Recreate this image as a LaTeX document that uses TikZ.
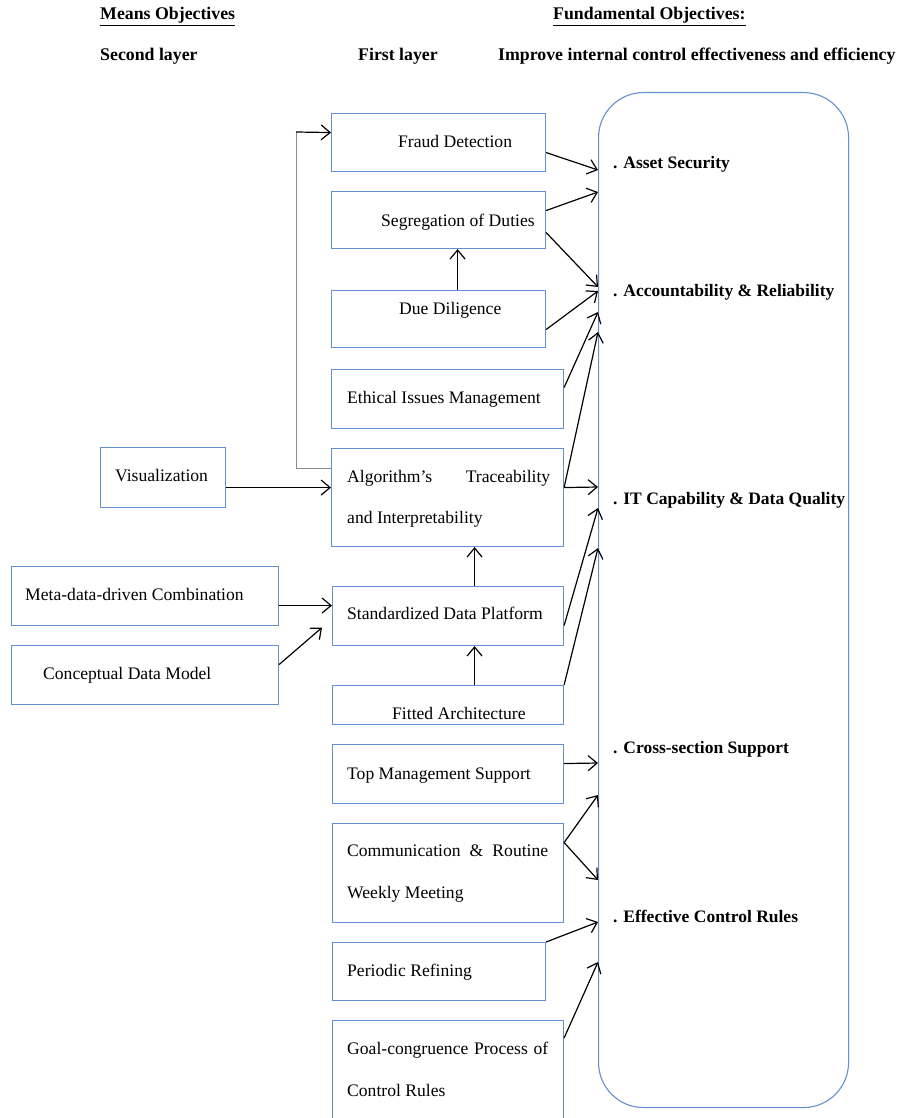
\documentclass[tikz,border=0pt]{standalone}
\usepackage{fontspec}
\setmainfont{Liberation Serif}
\usetikzlibrary{arrows.meta}
\definecolor{boxblue}{RGB}{100,145,205}
\tikzset{
  box/.style={draw=boxblue, line width=1.1pt, anchor=north west, inner sep=0pt},
  txt/.style={anchor=base west, inner sep=0pt, font=\fontsize{17.6}{20}\selectfont},
  lbl/.style={anchor=base west, inner sep=0pt, font=\fontsize{17.5}{20}\selectfont\bfseries},
  head/.style={anchor=base west, inner sep=0pt, font=\fontsize{17.8}{20}\selectfont\bfseries},
  arr/.style={-{Straight Barb[length=9pt,width=15pt]}, line width=1.2pt, black},
  fb/.style={line width=0.9pt, black!45},
}
\begin{document}
\begin{tikzpicture}[x=1pt,y=-1pt]
\useasboundingbox (0,0) rectangle (898,1118);
\clip (0,0) rectangle (898,1118);

% headers
\node[head] (h1) at (100,20) {\underline{Means Objectives}};
\node[head] (h2) at (553,20) {\underline{Fundamental Objectives:}};
\node[head] (h3) at (100,61) {Second layer};
\node[head] (h4) at (358,61) {First layer};
\node[head] (h5) at (498,61) {Improve internal control effectiveness and efficiency};

% fundamental objectives container
\node[draw=boxblue, line width=1.1pt, rounded corners=45pt, anchor=north west, minimum width=250pt, minimum height=1015pt, inner sep=0pt] (fund) at (598,92) {};
\node[lbl] (l1) at (613,169) {. Asset Security};
\node[lbl] (l2) at (613,296) {. Accountability \& Reliability};
\node[lbl] (l3) at (613,504) {. IT Capability \& Data Quality};
\node[lbl] (l4) at (613,753) {. Cross-section Support};
\node[lbl] (l5) at (613,922) {. Effective Control Rules};

% first layer boxes
\node[box, minimum width=214pt, minimum height=58pt] (fraud) at (331,113) {};
\node[box, minimum width=214pt, minimum height=57pt] (seg) at (331,191) {};
\node[box, minimum width=214pt, minimum height=57pt] (due) at (331,290) {};
\node[box, minimum width=232pt, minimum height=59pt] (eth) at (331,369) {};
\node[box, minimum width=232pt, minimum height=98pt] (alg) at (331,448) {};
\node[box, minimum width=231pt, minimum height=59pt] (std) at (332,586) {};
\node[box, minimum width=231pt, minimum height=39pt] (fit) at (332,685) {};
\node[box, minimum width=231pt, minimum height=59pt] (top) at (332,744) {};
\node[box, minimum width=231pt, minimum height=99pt] (comm) at (332,823) {};
\node[box, minimum width=213pt, minimum height=58pt] (per) at (332,942) {};
\node[box, minimum width=231pt, minimum height=110pt] (goal) at (332,1020) {};

% second layer boxes
\node[box, minimum width=125pt, minimum height=60pt] (vis) at (100,447) {};
\node[box, minimum width=267pt, minimum height=59pt] (meta) at (11,566) {};
\node[box, minimum width=267pt, minimum height=59pt] (conc) at (11,645) {};

% texts
\node[txt] (tfraud) at (398,148) {Fraud Detection};
\node[txt] (tseg) at (381,226) {Segregation of Duties};
\node[txt] (tdue) at (399,314) {Due Diligence};
\node[txt] (teth) at (347,403) {Ethical Issues Management};
\node[txt] (talg1) at (347,482) {\hbox to 203pt{Algorithm’s\hfill Traceability}};
\node[txt] (talg2) at (347,523) {and Interpretability};
\node[txt] (tstd) at (347,619) {Standardized Data Platform};
\node[txt] (tfit) at (392,719) {Fitted Architecture};
\node[txt] (ttop) at (347,779) {Top Management Support};
\node[txt] (tcomm1) at (347,856) {\hbox to 201pt{Communication\hfill\&\hfill Routine}};
\node[txt] (tcomm2) at (347,898) {Weekly Meeting};
\node[txt] (tper) at (347,976) {Periodic Refining};
\node[txt] (tgoal1) at (347,1054) {\hbox to 201pt{Goal-congruence\hfill Process\hfill of}};
\node[txt] (tgoal2) at (347,1096) {Control Rules};
\node[txt] (tvis) at (115,481) {Visualization};
\node[txt] (tmeta) at (25,600) {Meta-data-driven Combination};
\node[txt] (tconc) at (43,679) {Conceptual Data Model};

% arrows to fundamental objectives
\draw[arr] ([yshift=-10pt]fraud.east) -- ([yshift=-78pt]fund.north west);
\draw[arr] ([yshift=9.5pt]seg.east) -- ([yshift=-100pt]fund.north west);
\draw[arr] ([yshift=-12.5pt]seg.east) -- ([yshift=-195pt]fund.north west);
\draw[arr] ([yshift=-10.5pt]due.east) -- ([yshift=-199pt]fund.north west);
\draw[arr] ([yshift=11.5pt]eth.east) -- ([yshift=-220pt]fund.north west);
\draw[arr] ([yshift=10pt]alg.east) -- ([yshift=-240pt]fund.north west);
\draw[arr] ([yshift=10pt]alg.east) -- ([yshift=-395pt]fund.north west);
\draw[arr] ([yshift=-9.5pt]std.east) -- ([yshift=-416pt]fund.north west);
\draw[arr] (fit.north east) -- ([yshift=-456pt]fund.north west);
\draw[arr] ([yshift=10.5pt]top.east) -- ([yshift=-671pt]fund.north west);
\draw[arr] ([yshift=30.5pt]comm.east) -- ([yshift=-703pt]fund.north west);
\draw[arr] ([yshift=30.5pt]comm.east) -- ([yshift=-788pt]fund.north west);
\draw[arr] (per.north east) -- ([yshift=-830pt]fund.north west);
\draw[arr] ([yshift=-18pt]goal.north east) -- ([yshift=-870pt]fund.north west);

% vertical arrows among first layer
\draw[arr] ([xshift=19pt]due.north) -- ([xshift=19pt]seg.south);
\draw[arr] ([xshift=26.5pt]std.north) -- ([xshift=27pt]alg.south);
\draw[arr] ([xshift=26.5pt]fit.north) -- ([xshift=26.5pt]std.south);

% second layer to first layer
\draw[arr] ([yshift=-10pt]vis.east) -- ([yshift=10pt]alg.west);
\draw[arr] ([yshift=-9.5pt]meta.east) -- ([yshift=10.5pt]std.west);
\draw[arr] ([yshift=10.5pt]conc.east) -- ([xshift=-10pt,yshift=-11.5pt]std.west);

% feedback from algorithm box to fraud detection
\coordinate (fbtop) at (296,132);
\draw[fb] ([yshift=-20pt]alg.north west) -| (fbtop);
\draw[arr] (fbtop) -- ([yshift=10pt]fraud.west);
\end{tikzpicture}
\end{document}
